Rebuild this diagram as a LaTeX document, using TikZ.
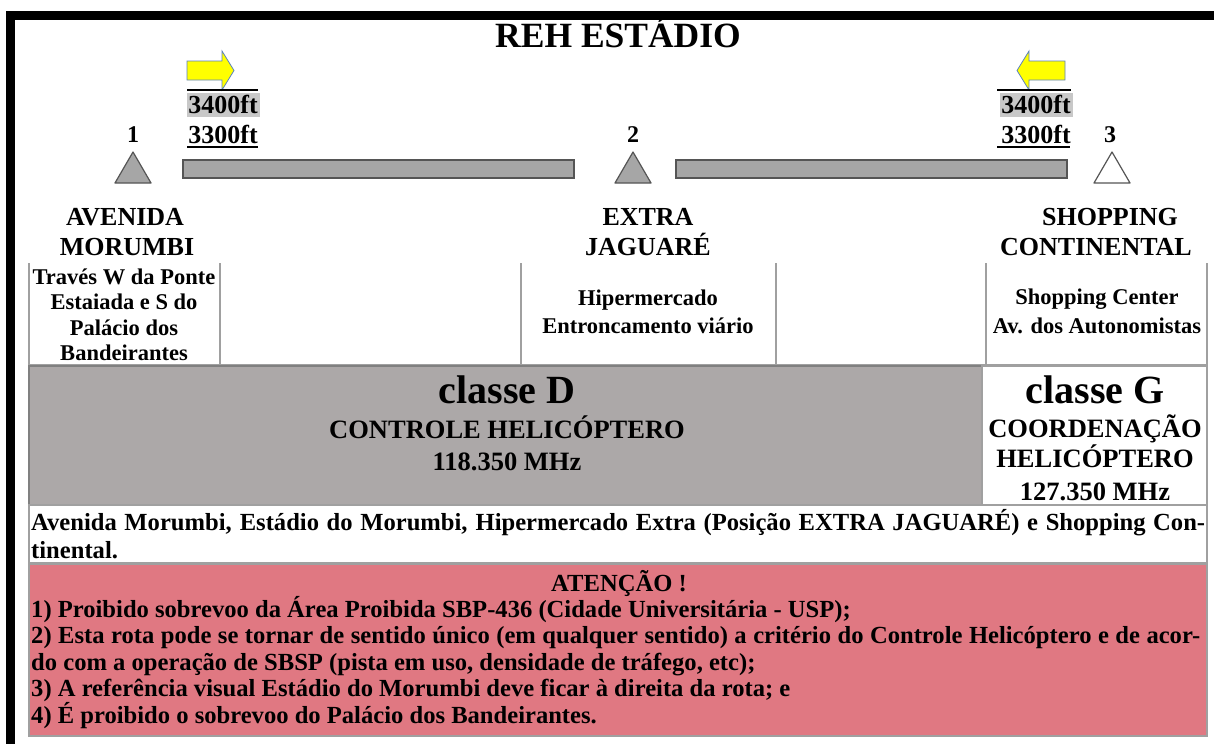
\documentclass[tikz,border=0pt]{standalone}
\usepackage{fontspec}
\setmainfont{Liberation Serif}
\newcommand{\fsz}[1]{\fontsize{#1}{#1}\selectfont\bfseries}
\definecolor{bargray}{RGB}{166,166,166}
\definecolor{bardraw}{RGB}{85,85,85}
\definecolor{bandgray}{RGB}{172,168,168}
\definecolor{pinkbox}{RGB}{224,120,130}
\definecolor{linegray}{RGB}{160,160,160}
\definecolor{hlgray}{RGB}{200,200,200}
\definecolor{arrowblue}{RGB}{91,130,190}
\definecolor{arrowyellow}{RGB}{255,255,0}
\tikzset{
  lbl/.style={anchor=base, inner sep=0pt, text=black},
  lblw/.style={anchor=base west, inner sep=0pt, text=black},
  tri/.style={fill=bargray, draw=bardraw, line width=1.2pt, line join=round},
  routebar/.style={fill=bargray, draw=bardraw, line width=1.2pt},
  cell/.style={draw=linegray, line width=1.6pt},
  yarrow/.style={fill=arrowyellow, draw=arrowblue, line width=0.8pt},
  rule/.style={draw=black, line width=2.5pt}
}
\begin{document}
\begin{tikzpicture}[x=1pt,y=-1pt]
\useasboundingbox (0,0) rectangle (1214,744);
\fill[white] (0,0) rectangle (1214,744);
% frame
\fill[black] (6,11) rectangle (1214,20);
\fill[black] (6,11) rectangle (15,744);
% title
\node[lbl,font=\fsz{35.5}] (title) at (618,47) {REH ESTÁDIO};
% arrows
\draw[yarrow] (187,61) -- (222,61) -- (222,51) -- (234,70.5) -- (222,90) -- (222,80) -- (187,80) -- cycle;
\draw[yarrow] (1065,61) -- (1029,61) -- (1029,51) -- (1017,70.5) -- (1029,90) -- (1029,80) -- (1065,80) -- cycle;
% altitudes left
\fill[hlgray] (187,93) rectangle (260,117);
\draw[rule] (187,90) -- (258,90);
\node[lbl,font=\fsz{26}] (altLa) at (223,113) {3400ft};
\node[lbl,font=\fsz{26}] (altLb) at (223,143) {3300ft};
\draw[rule] (187,147) -- (258,147);
% altitudes right
\fill[hlgray] (1000,93) rectangle (1073,117);
\draw[rule] (997,90) -- (1071,90);
\node[lbl,font=\fsz{26}] (altRa) at (1036,113) {3400ft};
\node[lbl,font=\fsz{26}] (altRb) at (1036,143) {3300ft};
\draw[rule] (997,147) -- (1070,147);
% numbers
\node[lbl,font=\fsz{24}] (n1) at (133,142) {1};
\node[lbl,font=\fsz{24}] (n2) at (633,142) {2};
\node[lbl,font=\fsz{24}] (n3) at (1110,142) {3};
% triangles
\draw[tri] (133,152) -- (151,183) -- (115,183) -- cycle;
\draw[tri] (633,152) -- (651,183) -- (615,183) -- cycle;
\draw[tri, fill=white] (1112,152) -- (1130,183) -- (1094,183) -- cycle;
% route bars
\draw[routebar] (183,160) rectangle (574,178);
\draw[routebar] (676,160) rectangle (1067,178);
% point names
\node[lbl,font=\fsz{26}] (p1a) at (125,225) {AVENIDA};
\node[lbl,font=\fsz{26}] (p1b) at (127,255) {MORUMBI};
\node[lbl,font=\fsz{26}] (p2a) at (648,225) {EXTRA};
\node[lbl,font=\fsz{26}] (p2b) at (648,255) {JAGUARÉ};
\node[lbl,font=\fsz{26}] (p3a) at (1110,225) {SHOPPING};
\node[lbl,font=\fsz{26}] (p3b) at (1096,255) {CONTINENTAL};
% upper table
\draw[cell] (29,263) -- (29,365);
\draw[cell] (220,263) -- (220,365);
\draw[cell] (521,263) -- (521,365);
\draw[cell] (776,263) -- (776,365);
\draw[cell] (986,263) -- (986,365);
\draw[cell] (1207,263) -- (1207,365);
\draw[cell] (29,365) -- (1207,365);
\node[lbl,font=\fsz{22.5}] (c1a) at (124,284) {Través W da Ponte};
\node[lbl,font=\fsz{22.5}] (c1b) at (124,309) {Estaiada e S do};
\node[lbl,font=\fsz{22.5}] (c1c) at (124,335) {Palácio dos};
\node[lbl,font=\fsz{22.5}] (c1d) at (124,360) {Bandeirantes};
\node[lbl,font=\fsz{22.5}] (c3a) at (648,305) {Hipermercado};
\node[lbl,font=\fsz{22.5}] (c3b) at (648,333) {Entroncamento viário};
\node[lbl,font=\fsz{22.5}] (c5a) at (1097,304) {Shopping Center};
\node[lbl,font=\fsz{22.5}] (c5b) at (1097,333) {Av. dos Autonomistas};
% airspace band
\fill[bandgray] (29,366) rectangle (982,505);
\draw[draw=gray, line width=1.4pt] (29,366) rectangle (982,505);
\draw[cell, fill=white] (982,366) rectangle (1207,505);
\node[lbl,font=\fsz{40}] (clD) at (507,403) {classe D};
\node[lbl,font=\fsz{26.5}] (clDa) at (507,438) {CONTROLE HELICÓPTERO};
\node[lbl,font=\fsz{26.5}] (clDb) at (507,470) {118.350 MHz};
\node[lbl,font=\fsz{40}] (clG) at (1095,403) {classe G};
\node[lbl,font=\fsz{26.5}] (clGa) at (1095,437) {COORDENAÇÃO};
\node[lbl,font=\fsz{26.5}] (clGb) at (1095,467) {HELICÓPTERO};
\node[lbl,font=\fsz{26.5}] (clGc) at (1095,500) {127.350 MHz};
% references row
\draw[cell, fill=white] (29,505) rectangle (1207,563);
\node[lblw,font=\fsz{24.6}] (r1) at (31,530) {\makebox[1174pt][s]{Avenida Morumbi, Estádio do Morumbi, Hipermercado Extra (Posição EXTRA JAGUARÉ) e Shopping Con-}};
\node[lblw,font=\fsz{24.6}] (r2) at (31,558) {tinental.};
% attention box
\draw[cell, fill=pinkbox] (29,564) rectangle (1207,736);
\node[lbl,font=\fsz{24.6}] (att) at (619,591) {ATENÇÃO !};
\node[lblw,font=\fsz{24.6}] (a1) at (31,617) {1) Proibido sobrevoo da Área Proibida SBP-436 (Cidade Universitária - USP);};
\node[lblw,font=\fsz{24.6}] (a2) at (31,643.5) {\makebox[1169pt][s]{2) Esta rota pode se tornar de sentido único (em qualquer sentido) a critério do Controle Helicóptero e de acor-}};
\node[lblw,font=\fsz{24.6}] (a3) at (31,670) {do com a operação de SBSP (pista em uso, densidade de tráfego, etc);};
\node[lblw,font=\fsz{24.6}] (a4) at (31,696.5) {3) A referência visual Estádio do Morumbi deve ficar à direita da rota; e};
\node[lblw,font=\fsz{24.6}] (a5) at (31,723) {4) É proibido o sobrevoo do Palácio dos Bandeirantes.};
\end{tikzpicture}
\end{document}
